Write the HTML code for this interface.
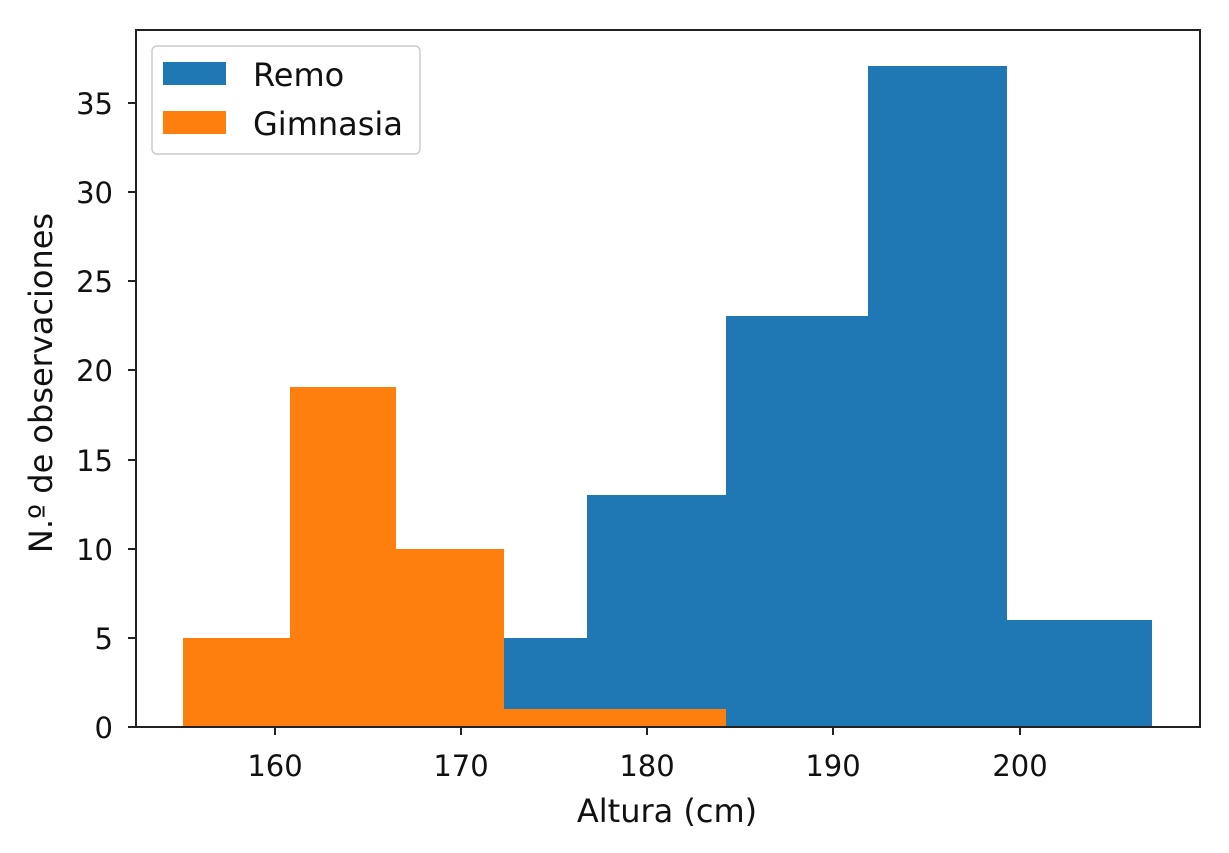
<!DOCTYPE html><html><head><style>body{margin:0;background:#fff}</style></head><body>
<svg width="1229" height="848" xmlns="http://www.w3.org/2000/svg" font-family="'DejaVu Sans','Liberation Sans',sans-serif" font-size="29" fill="#111">
<rect width="1229" height="848" fill="#fff"/>
<g fill="#1f77b4">
<rect x="504" y="638" width="83" height="89"/>
<rect x="587" y="495" width="139" height="232"/>
<rect x="726" y="316" width="142" height="411"/>
<rect x="868" y="66" width="139" height="661"/>
<rect x="1007" y="620" width="145" height="107"/>
</g>
<g fill="#ff7f0e">
<rect x="183" y="638" width="107" height="89"/>
<rect x="290" y="387" width="106" height="340"/>
<rect x="396" y="549" width="108" height="178"/>
<rect x="504" y="709" width="222" height="18"/>
</g>
<rect x="136" y="30" width="1064" height="697" fill="none" stroke="#222" stroke-width="2"/>
<g stroke="#222" stroke-width="2">
<line x1="128" y1="727" x2="136" y2="727"/><line x1="128" y1="638" x2="136" y2="638"/><line x1="128" y1="549" x2="136" y2="549"/><line x1="128" y1="460" x2="136" y2="460"/><line x1="128" y1="370" x2="136" y2="370"/><line x1="128" y1="281" x2="136" y2="281"/><line x1="128" y1="192" x2="136" y2="192"/><line x1="128" y1="103" x2="136" y2="103"/>
<line x1="275" y1="727" x2="275" y2="735"/><line x1="461" y1="727" x2="461" y2="735"/><line x1="647" y1="727" x2="647" y2="735"/><line x1="833" y1="727" x2="833" y2="735"/><line x1="1020" y1="727" x2="1020" y2="735"/>
</g>
<g text-anchor="end">
<text x="113" y="738">0</text><text x="113" y="649">5</text><text x="113" y="560">10</text><text x="113" y="471">15</text><text x="113" y="381">20</text><text x="113" y="292">25</text><text x="113" y="203">30</text><text x="113" y="114">35</text>
</g>
<g text-anchor="middle">
<text x="275" y="776">160</text><text x="461" y="776">170</text><text x="647" y="776">180</text><text x="833" y="776">190</text><text x="1020" y="776">200</text>
<text x="667" y="822" font-size="32">Altura (cm)</text>
<text transform="translate(52,383) rotate(-90)" font-size="32">N.º de observaciones</text>
</g>
<rect x="152" y="46" width="268" height="108" rx="5" fill="#fff" fill-opacity="0.8" stroke="#ccc" stroke-width="1.5"/>
<rect x="163" y="62" width="63" height="23" fill="#1f77b4"/>
<rect x="163" y="111" width="63" height="23" fill="#ff7f0e"/>
<text x="253" y="86" font-size="32">Remo</text>
<text x="253" y="135" font-size="32">Gimnasia</text>
</svg>
</body></html>
